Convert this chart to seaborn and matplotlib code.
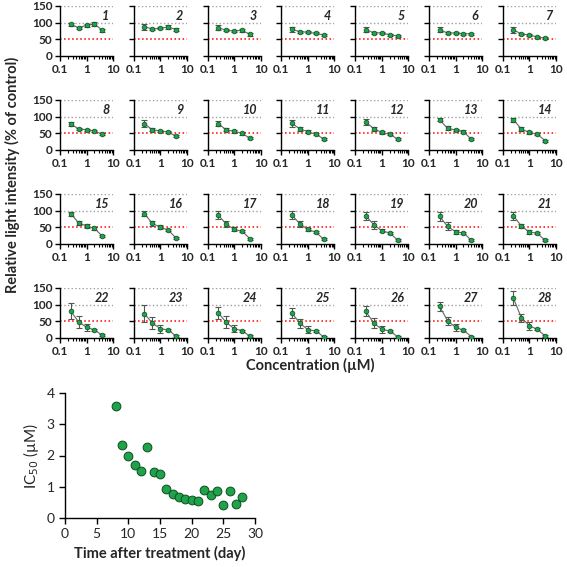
import numpy as np
import matplotlib
matplotlib.use("Agg")
import matplotlib.pyplot as plt
import matplotlib.ticker as mticker
import seaborn as sns

# concentrations (uM) used in every panel
conc = [0.25, 0.5, 1, 2, 4]

# relative light intensity (% of control) for days 1..28
means = [
    [95, 85, 92, 96, 77], [88, 81, 83, 87, 79], [85, 77, 75, 77, 65], [80, 73, 71, 68, 63],
    [79, 70, 69, 64, 60], [79, 69, 69, 67, 66], [79, 66, 63, 57, 53],
    [79, 63, 61, 57, 47], [79, 61, 57, 54, 41], [79, 61, 56, 50, 35], [80, 63, 55, 47, 33],
    [84, 64, 53, 47, 33], [91, 65, 60, 55, 32], [91, 63, 53, 47, 28],
    [91, 64, 54, 47, 23], [91, 62, 50, 42, 17], [87, 60, 44, 38, 16], [87, 60, 44, 35, 14],
    [85, 58, 40, 33, 12], [83, 53, 37, 33, 11], [85, 54, 36, 32, 11],
    [81, 49, 32, 24, 8], [73, 45, 28, 24, 5], [76, 47, 28, 22, 5], [75, 44, 25, 21, 3],
    [80, 45, 26, 21, 4], [95, 52, 32, 23, 4], [120, 61, 37, 26, 6],
]
errors = [
    [5, 3, 4, 6, 5], [9, 4, 3, 5, 4], [7, 3, 3, 5, 4], [8, 3, 3, 3, 3],
    [7, 3, 3, 3, 3], [8, 3, 3, 3, 3], [9, 4, 3, 3, 3],
    [6, 3, 3, 3, 3], [10, 4, 4, 3, 3], [7, 4, 4, 4, 3], [10, 5, 4, 3, 3],
    [8, 6, 4, 3, 3], [5, 6, 4, 4, 3], [6, 6, 4, 3, 3],
    [6, 6, 5, 4, 3], [8, 8, 6, 3, 3], [13, 10, 6, 3, 3], [12, 10, 4, 3, 3],
    [12, 12, 5, 3, 3], [14, 12, 6, 3, 3], [12, 6, 6, 3, 3],
    [23, 18, 10, 3, 3], [25, 18, 12, 3, 3], [18, 18, 10, 3, 3], [16, 14, 10, 3, 3],
    [15, 15, 10, 3, 3], [13, 12, 10, 3, 3], [20, 12, 12, 3, 3],
]

# IC50 over time
days = [8, 9, 10, 11, 12, 13, 14, 15, 16, 17, 18, 19, 20, 21, 22, 23, 24, 25, 26, 27, 28]
ic50 = [3.6, 2.33, 2.0, 1.7, 1.5, 2.27, 1.47, 1.4, 0.93, 0.77, 0.67, 0.6, 0.57, 0.55,
        0.9, 0.73, 0.85, 0.42, 0.85, 0.45, 0.66]

sns.set_theme(style="ticks")
plt.rcParams['font.family'] = ['Lato', 'DejaVu Sans']

W = 567
fig = plt.figure(figsize=(5.67, 5.67), dpi=100)


def px_axes(left, top, width, height):
    return fig.add_axes([left / W, 1 - (top + height) / W, width / W, height / W])


green = "#1fa34a"
for i in range(28):
    r, c = divmod(i, 7)
    ax = px_axes(60 + 73.8 * c, 6 + 94 * r, 53, 50)
    for g in (100, 150):
        ax.axhline(g, color="#a0a0a0", ls=":", lw=1.0, zorder=0)
    ax.axhline(50, color="red", ls=":", lw=1.1, zorder=1)
    ax.errorbar(conc, means[i], yerr=errors[i], fmt="none", ecolor="#555555",
                elinewidth=0.8, capsize=2.2, capthick=0.8, zorder=2)
    sns.lineplot(x=conc, y=means[i], ax=ax, color="#666666", lw=0.8,
                 marker="o", markersize=3.4, markerfacecolor=green,
                 markeredgecolor="#0b4d1f", markeredgewidth=0.5, zorder=3)
    ax.set_xscale("log")
    ax.set_xlim(0.1, 10)
    ax.set_ylim(0, 150)
    ax.xaxis.set_major_locator(mticker.FixedLocator([0.1, 1, 10]))
    ax.xaxis.set_major_formatter(mticker.FixedFormatter(["0.1", "1", "10"]))
    ax.xaxis.set_minor_locator(mticker.LogLocator(base=10, subs=np.arange(2, 10)))
    ax.xaxis.set_minor_formatter(mticker.NullFormatter())
    ax.set_yticks([0, 50, 100, 150])
    if c == 0:
        ax.set_yticklabels(["0", "50", "100", "150"])
    else:
        ax.set_yticklabels([])
    ax.tick_params(axis="both", which="major", direction="out", length=3.5, width=1.0,
                   labelsize=8.5, pad=2, color="black")
    ax.tick_params(axis="x", which="minor", direction="out", length=2, width=0.8, color="black")
    for lab in ax.get_xticklabels() + ax.get_yticklabels():
        lab.set_fontweight("bold")
    sns.despine(ax=ax)
    for s in ("left", "bottom"):
        ax.spines[s].set_color("black")
        ax.spines[s].set_linewidth(1.0)
    ax.text(0.93, 0.8, str(i + 1), transform=ax.transAxes, ha="right", va="center",
            fontsize=9, fontweight="bold", fontstyle="italic")

fig.text(12 / W, 1 - 175 / W, "Relative light intensity (% of control)", rotation=90,
         ha="center", va="center", fontsize=10.5, fontweight="bold")
fig.text(310 / W, 1 - 365 / W, "Concentration (µM)", ha="center", va="center",
         fontsize=10.5, fontweight="bold")

# IC50 panel
ax = px_axes(65, 393, 190, 125)
sns.scatterplot(x=days, y=ic50, ax=ax, s=40, color=green, edgecolor="#0b4d1f",
                linewidth=0.7, zorder=3)
ax.set_xlim(0, 30)
ax.set_ylim(0, 4)
ax.set_xticks(range(0, 31, 5))
ax.set_yticks(range(0, 5))
ax.tick_params(axis="both", direction="out", length=4, width=1.0, labelsize=10, color="black")
sns.despine(ax=ax)
for s in ("left", "bottom"):
    ax.spines[s].set_color("black")
    ax.spines[s].set_linewidth(1.0)
ax.set_xlabel("Time after treatment (day)", fontsize=10.5, fontweight="bold")
ax.set_ylabel("IC$_{50}$ (µM)", fontsize=11)

fig.savefig("out.png", dpi=100)
